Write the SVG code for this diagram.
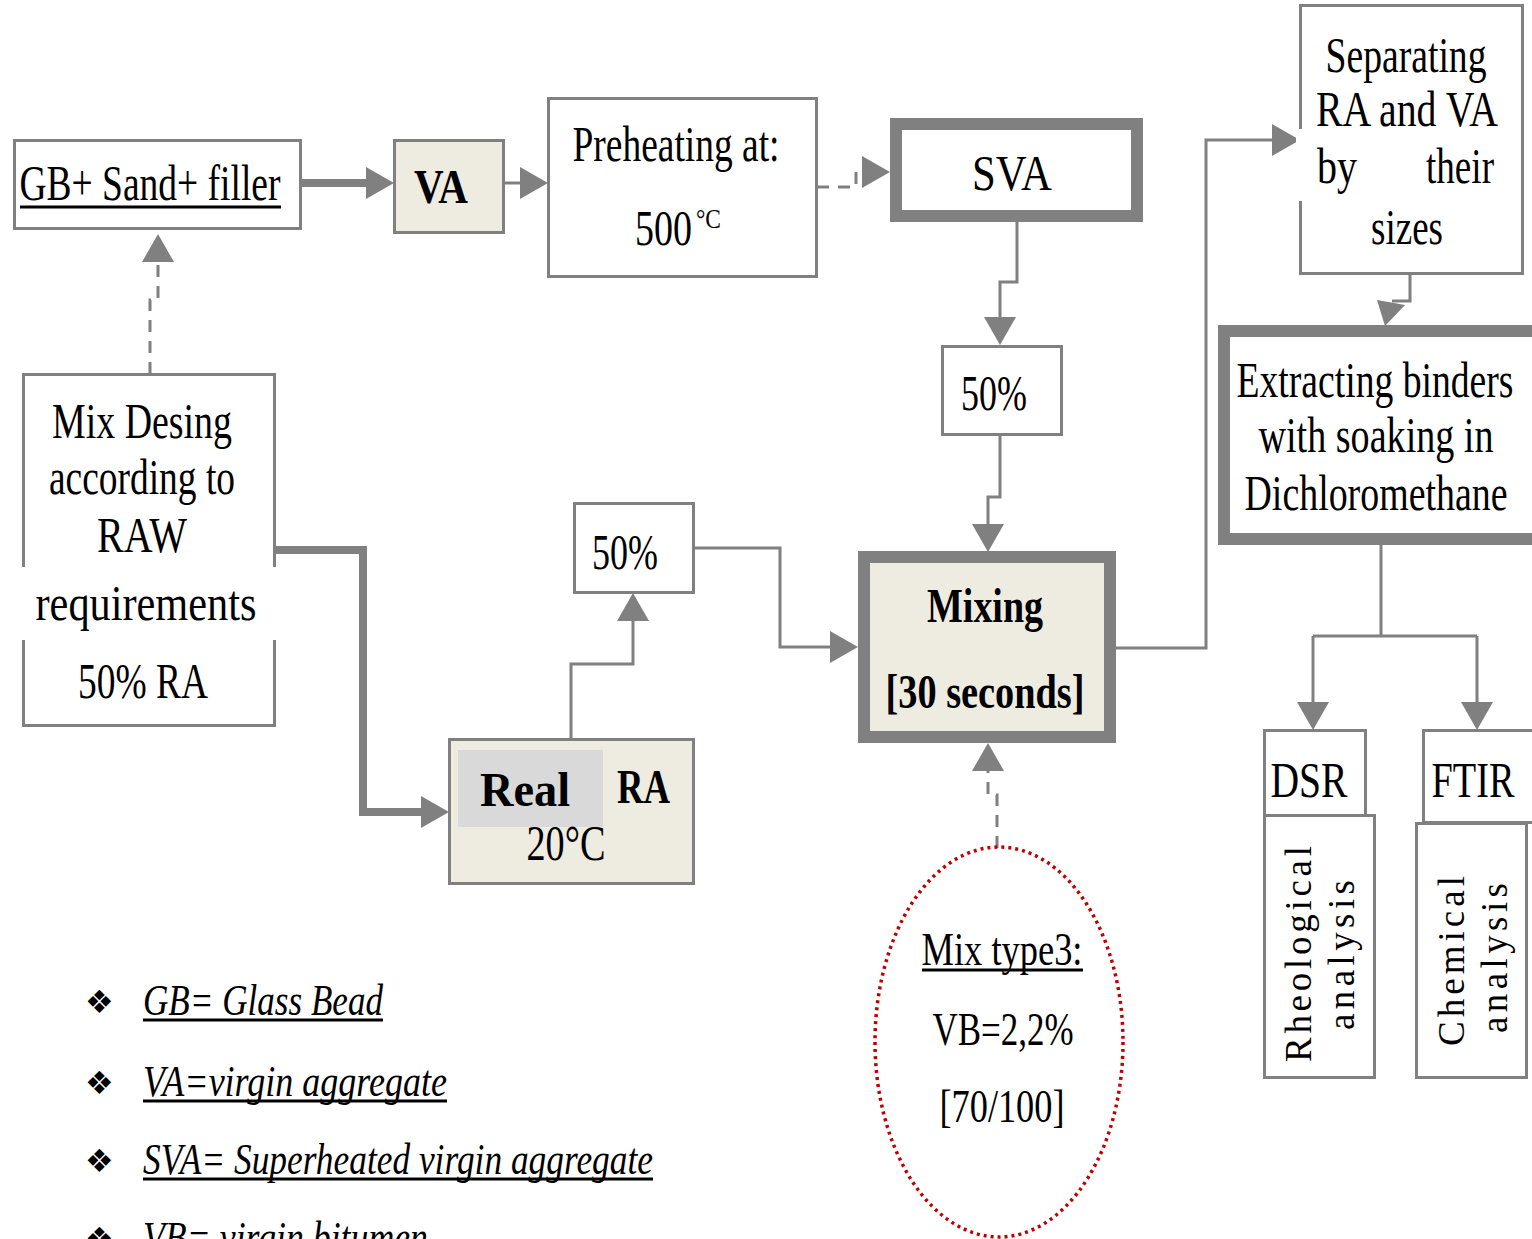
<svg xmlns="http://www.w3.org/2000/svg" width="1532" height="1239" viewBox="0 0 1532 1239">
<style>
.b{fill:#fff;stroke:#808080;stroke-width:3}
.bt{fill:#fff;stroke:#808080;stroke-width:12}
.beige{fill:#eeece1}
.t{font-family:"Liberation Serif","Times New Roman",serif;font-size:50px;fill:#000;text-anchor:middle}
.s{text-anchor:start}
.bold{font-weight:bold;font-size:48px}
.el{font-size:46px}
.lg{font-size:44px;font-style:italic;text-anchor:start}
.rot{font-size:37px}
.c{fill:none;stroke:#808080;stroke-width:3}
.thick{stroke-width:8}
.dash{stroke-dasharray:12 9}
.ul{stroke:#000;stroke-width:3}
.bul{font-family:"DejaVu Sans",sans-serif;font-size:32px;fill:#000}
</style>
<defs>
<marker id="ah" markerUnits="userSpaceOnUse" markerWidth="30" markerHeight="32" refX="0" refY="16" orient="auto">
<path d="M0,0 L28,16 L0,32 z" fill="#808080"/>
</marker>
</defs>
<rect width="1532" height="1239" fill="#fff"/>

<g id="connectors">
<path class="c thick" d="M301,183 H366" marker-end="url(#ah)"/>
<path class="c" d="M504,183 H520" marker-end="url(#ah)"/>
<path class="c dash" d="M817,187 H856 V172 H862" marker-end="url(#ah)"/>
<path class="c" d="M1017,222 V282 H1000 V317" marker-end="url(#ah)"/>
<path class="c" d="M1000,435 V497 H988 V524" marker-end="url(#ah)"/>
<path class="c" d="M1116,648 H1206 V140 H1272" marker-end="url(#ah)"/>
<path class="c" d="M1410,273 V301 H1392"/>
<polygon points="1377,300 1405,305 1385,326" fill="#808080"/>
<path class="c" d="M1381,545 V636 M1313,636 H1477"/>
<path class="c" d="M1313,636 V702" marker-end="url(#ah)"/>
<path class="c" d="M1477,636 V702" marker-end="url(#ah)"/>
<path class="c dash" d="M150,374 V300 H158 V262" marker-end="url(#ah)"/>
<path class="c thick" d="M275,550 H363 V812 H421" marker-end="url(#ah)"/>
<path class="c" d="M571,739 V664 H633 V621" marker-end="url(#ah)"/>
<path class="c" d="M694,548 H780 V647 H830" marker-end="url(#ah)"/>
<path class="c dash" d="M997,848 V795 H988 V771" marker-end="url(#ah)"/>
</g>

<g id="gb">
<rect class="b" x="14.5" y="140.5" width="286" height="88"/>
<text class="t" x="150" y="200" textLength="261" lengthAdjust="spacingAndGlyphs">GB+ Sand+ filler</text>
<line class="ul" x1="20" y1="207" x2="281" y2="207"/>
</g>

<g id="va">
<rect class="b beige" x="394.5" y="140.5" width="109" height="92"/>
<text class="t bold" x="441" y="203" textLength="54" lengthAdjust="spacingAndGlyphs">VA</text>
</g>

<g id="preheating">
<rect class="b" x="548.5" y="98.5" width="268" height="178"/>
<text class="t" x="676" y="161" textLength="207" lengthAdjust="spacingAndGlyphs">Preheating at:</text>
<text class="t s" x="635" y="245" textLength="57" lengthAdjust="spacingAndGlyphs">500</text>
<text class="t s" x="696" y="228" style="font-size:28px" textLength="25" lengthAdjust="spacingAndGlyphs">°C</text>
</g>

<g id="sva">
<rect class="bt" x="896" y="124" width="241" height="92"/>
<text class="t" x="1012" y="190" textLength="80" lengthAdjust="spacingAndGlyphs">SVA</text>
</g>

<g id="p50a">
<rect class="b" x="942.5" y="346.5" width="119" height="88"/>
<text class="t" x="994" y="410" textLength="66" lengthAdjust="spacingAndGlyphs">50%</text>
</g>

<g id="mixing">
<rect class="bt beige" x="864" y="557" width="246" height="180"/>
<text class="t bold" x="985" y="622" textLength="116" lengthAdjust="spacingAndGlyphs">Mixing</text>
<text class="t bold" x="985" y="708" textLength="199" lengthAdjust="spacingAndGlyphs">[30 seconds]</text>
</g>

<g id="separating">
<rect class="b" x="1300.5" y="5.5" width="222" height="268"/>
<rect x="1296" y="129" width="9" height="72" fill="#fff"/>
<text class="t" x="1406" y="72" textLength="161" lengthAdjust="spacingAndGlyphs">Separating</text>
<text class="t" x="1407" y="126" textLength="182" lengthAdjust="spacingAndGlyphs">RA and VA</text>
<text class="t s" x="1317" y="183" textLength="40" lengthAdjust="spacingAndGlyphs">by</text>
<text class="t s" x="1426" y="183" textLength="68" lengthAdjust="spacingAndGlyphs">their</text>
<text class="t" x="1407" y="244" textLength="72" lengthAdjust="spacingAndGlyphs">sizes</text>
</g>

<g id="extracting">
<rect class="bt" x="1224" y="331" width="320" height="208"/>
<text class="t" x="1375" y="397" textLength="277" lengthAdjust="spacingAndGlyphs">Extracting binders</text>
<text class="t" x="1376" y="452" textLength="235" lengthAdjust="spacingAndGlyphs">with soaking in</text>
<text class="t" x="1376" y="510" textLength="263" lengthAdjust="spacingAndGlyphs">Dichloromethane</text>
</g>

<g id="dsr">
<rect class="b" x="1264.5" y="730.5" width="101" height="88"/>
<text class="t" x="1309" y="797" textLength="77" lengthAdjust="spacingAndGlyphs">DSR</text>
</g>
<g id="rheological">
<rect class="b" x="1264.5" y="815.5" width="110" height="262"/>
<text class="t rot" transform="translate(1311,954) rotate(-90)" textLength="216" lengthAdjust="spacing">Rheological</text>
<text class="t rot" transform="translate(1354,955) rotate(-90)" textLength="150" lengthAdjust="spacing">analysis</text>
</g>

<g id="ftir">
<rect class="b" x="1423.5" y="730.5" width="112" height="92"/>
<text class="t" x="1473" y="797" textLength="83" lengthAdjust="spacingAndGlyphs">FTIR</text>
</g>
<g id="chemical">
<rect class="b" x="1416.5" y="823.5" width="110" height="254"/>
<text class="t rot" transform="translate(1464,961) rotate(-90)" textLength="170" lengthAdjust="spacing">Chemical</text>
<text class="t rot" transform="translate(1507,958) rotate(-90)" textLength="150" lengthAdjust="spacing">analysis</text>
</g>

<g id="mixdesign">
<rect class="b" x="23.5" y="374.5" width="251" height="351"/>
<rect x="18" y="567" width="262" height="73" fill="#fff"/>
<text class="t" x="142" y="438" textLength="180" lengthAdjust="spacingAndGlyphs">Mix Desing</text>
<text class="t" x="142" y="494" textLength="186" lengthAdjust="spacingAndGlyphs">according to</text>
<text class="t" x="142" y="552" textLength="90" lengthAdjust="spacingAndGlyphs">RAW</text>
<text class="t" x="146" y="620" textLength="221" lengthAdjust="spacingAndGlyphs">requirements</text>
<text class="t" x="143" y="698" textLength="130" lengthAdjust="spacingAndGlyphs">50% RA</text>
</g>

<g id="p50b">
<rect class="b" x="574.5" y="503.5" width="119" height="89"/>
<text class="t" x="625" y="569" textLength="66" lengthAdjust="spacingAndGlyphs">50%</text>
</g>

<g id="realra">
<rect class="b beige" x="449.5" y="739.5" width="244" height="144"/>
<rect x="458" y="750" width="145" height="77" fill="#d9d9d9"/>
<text class="t bold s" x="480" y="806" textLength="90" lengthAdjust="spacingAndGlyphs">Real</text>
<text class="t bold s" x="617" y="803" textLength="53" lengthAdjust="spacingAndGlyphs">RA</text>
<text class="t" x="566" y="860" textLength="79" lengthAdjust="spacingAndGlyphs">20°C</text>
</g>

<g id="mixtype">
<ellipse cx="999" cy="1042" rx="124" ry="195" fill="none" stroke="#c00000" stroke-width="3.5" stroke-dasharray="3 4"/>
<text class="t el" x="1002" y="965" textLength="161" lengthAdjust="spacingAndGlyphs">Mix type3:</text>
<line class="ul" x1="922" y1="970" x2="1083" y2="970"/>
<text class="t el" x="1003" y="1045" textLength="141" lengthAdjust="spacingAndGlyphs">VB=2,2%</text>
<text class="t el" x="1002" y="1122" textLength="125" lengthAdjust="spacingAndGlyphs">[70/100]</text>
</g>

<g id="legend">
<text class="bul" x="85" y="1013">❖</text>
<text class="bul" x="85" y="1094">❖</text>
<text class="bul" x="85" y="1172">❖</text>
<text class="bul" x="85" y="1250">❖</text>
<text class="t lg" x="143" y="1015" textLength="240" lengthAdjust="spacingAndGlyphs">GB= Glass Bead</text>
<line class="ul" x1="143" y1="1020" x2="383" y2="1020"/>
<text class="t lg" x="143" y="1096" textLength="304" lengthAdjust="spacingAndGlyphs">VA=virgin aggregate</text>
<line class="ul" x1="143" y1="1101" x2="447" y2="1101"/>
<text class="t lg" x="143" y="1174" textLength="510" lengthAdjust="spacingAndGlyphs">SVA= Superheated virgin aggregate</text>
<line class="ul" x1="143" y1="1179" x2="653" y2="1179"/>
<text class="t lg" x="143" y="1252" textLength="285" lengthAdjust="spacingAndGlyphs">VB= virgin bitumen</text>
</g>
</svg>
